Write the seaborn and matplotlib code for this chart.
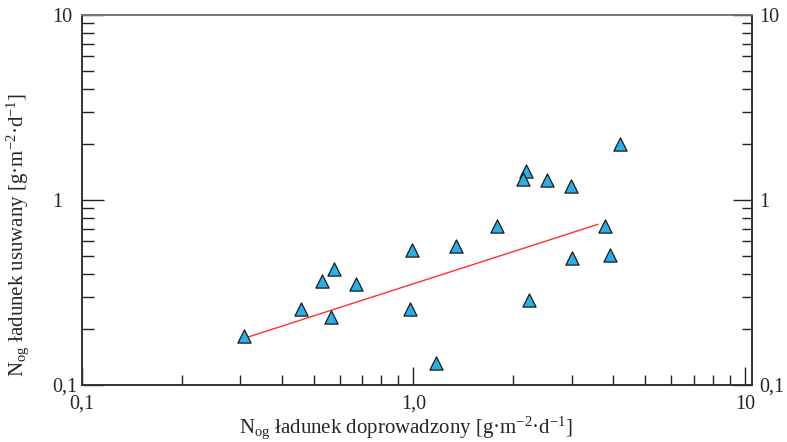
import numpy as np
import pandas as pd
import seaborn as sns
import matplotlib.pyplot as plt
from matplotlib.ticker import FixedLocator, FixedFormatter, NullFormatter

# values (log-log axes)
n_in = [0.309, 0.458, 0.529, 0.577, 0.564, 0.669, 0.976, 0.992, 1.169, 1.344,
        1.782, 2.235, 2.185, 2.135, 2.522, 2.987, 3.001, 3.783, 3.916, 4.206]
n_out = [0.184, 0.257, 0.365, 0.425, 0.233, 0.350, 0.257, 0.535, 0.132, 0.564,
         0.726, 0.288, 1.435, 1.298, 1.283, 1.191, 0.488, 0.726, 0.504, 2.008]
# fitted line end points
fit_x = [0.309, 3.603]
fit_y = [0.179, 0.739]

df = pd.DataFrame({'in': n_in, 'out': n_out})
fit = pd.DataFrame({'x': fit_x, 'y': fit_y})

sns.set_style('ticks')
plt.rcParams['font.family'] = ['Liberation Serif', 'DejaVu Serif']
plt.rcParams['mathtext.fontset'] = 'custom'
plt.rcParams['mathtext.rm'] = 'Liberation Serif'
plt.rcParams['mathtext.it'] = 'Liberation Serif:italic'

fig = plt.figure(figsize=(7.87, 4.42), dpi=100)
ax = fig.add_axes([0.1042, 0.129, 0.8513, 0.837])

sns.lineplot(data=fit, x='x', y='y', ax=ax, color='#ff3030', linewidth=1.0)
sns.scatterplot(data=df, x='in', y='out', ax=ax, marker='^', s=90,
                color='#2aaee6', edgecolor='#1a1a1a', linewidth=0.9, zorder=3)

ax.set_xscale('log')
ax.set_yscale('log')
ax.set_xlim(0.1, 10.5)
ax.set_ylim(0.1, 10)

minors = [m * d for d in (0.1, 1) for m in range(2, 10)]
ax.xaxis.set_major_locator(FixedLocator([0.1, 1, 10]))
ax.xaxis.set_major_formatter(FixedFormatter(['0,1', '1,0', '10']))
ax.xaxis.set_minor_locator(FixedLocator(minors))
ax.xaxis.set_minor_formatter(NullFormatter())
ax.yaxis.set_major_locator(FixedLocator([0.1, 1, 10]))
ax.yaxis.set_major_formatter(FixedFormatter(['0,1', '1', '10']))
ax.yaxis.set_minor_locator(FixedLocator(minors))
ax.yaxis.set_minor_formatter(NullFormatter())

tc = '#222222'
ax.tick_params(axis='x', which='major', direction='in', length=13, width=1,
               pad=7, labelsize=14.5, top=False, color=tc)
ax.tick_params(axis='x', which='minor', direction='in', length=7, width=1,
               top=False, color=tc)
ax.tick_params(axis='y', which='major', direction='in', length=16, width=1,
               pad=21.5, labelsize=14.5, right=False, color=tc)
ax.tick_params(axis='y', which='minor', direction='in', length=8.5, width=1,
               right=False, color=tc)
for lab in ax.get_yticklabels():
    lab.set_horizontalalignment('left')

# right hand axis with its own labels
ax2 = ax.twinx()
ax2.set_yscale('log')
ax2.set_ylim(ax.get_ylim())
ax2.yaxis.set_major_locator(FixedLocator([0.1, 1, 10]))
ax2.yaxis.set_major_formatter(FixedFormatter(['0,1', '1', '10']))
ax2.yaxis.set_minor_locator(FixedLocator(minors))
ax2.yaxis.set_minor_formatter(NullFormatter())
ax2.tick_params(axis='y', which='major', direction='in', length=14, width=1,
                pad=5, labelsize=14.5, color=tc)
ax2.tick_params(axis='y', which='minor', direction='in', length=7, width=1,
                color=tc)

for a in (ax, ax2):
    for side in ['left', 'bottom', 'right']:
        a.spines[side].set_color('#333333')
        a.spines[side].set_linewidth(1.2)
    a.spines['top'].set_color('#777777')
    a.spines['top'].set_linewidth(1.2)

ax.set_xlabel(r'N$_{\mathrm{og}}$ ładunek doprowadzony [g·m$^{-2}$·d$^{-1}$]',
              fontsize=15)
ax.set_ylabel(r'N$_{\mathrm{og}}$ ładunek usuwany [g·m$^{-2}$·d$^{-1}$]',
              fontsize=15)
ax.xaxis.set_label_coords(0.4836, -0.116)
ax.xaxis.label.set_verticalalignment('center')
ax.yaxis.set_label_coords(-0.0955, 0.405)
ax.yaxis.label.set_verticalalignment('center')

fig.savefig('out.png', dpi=100)
